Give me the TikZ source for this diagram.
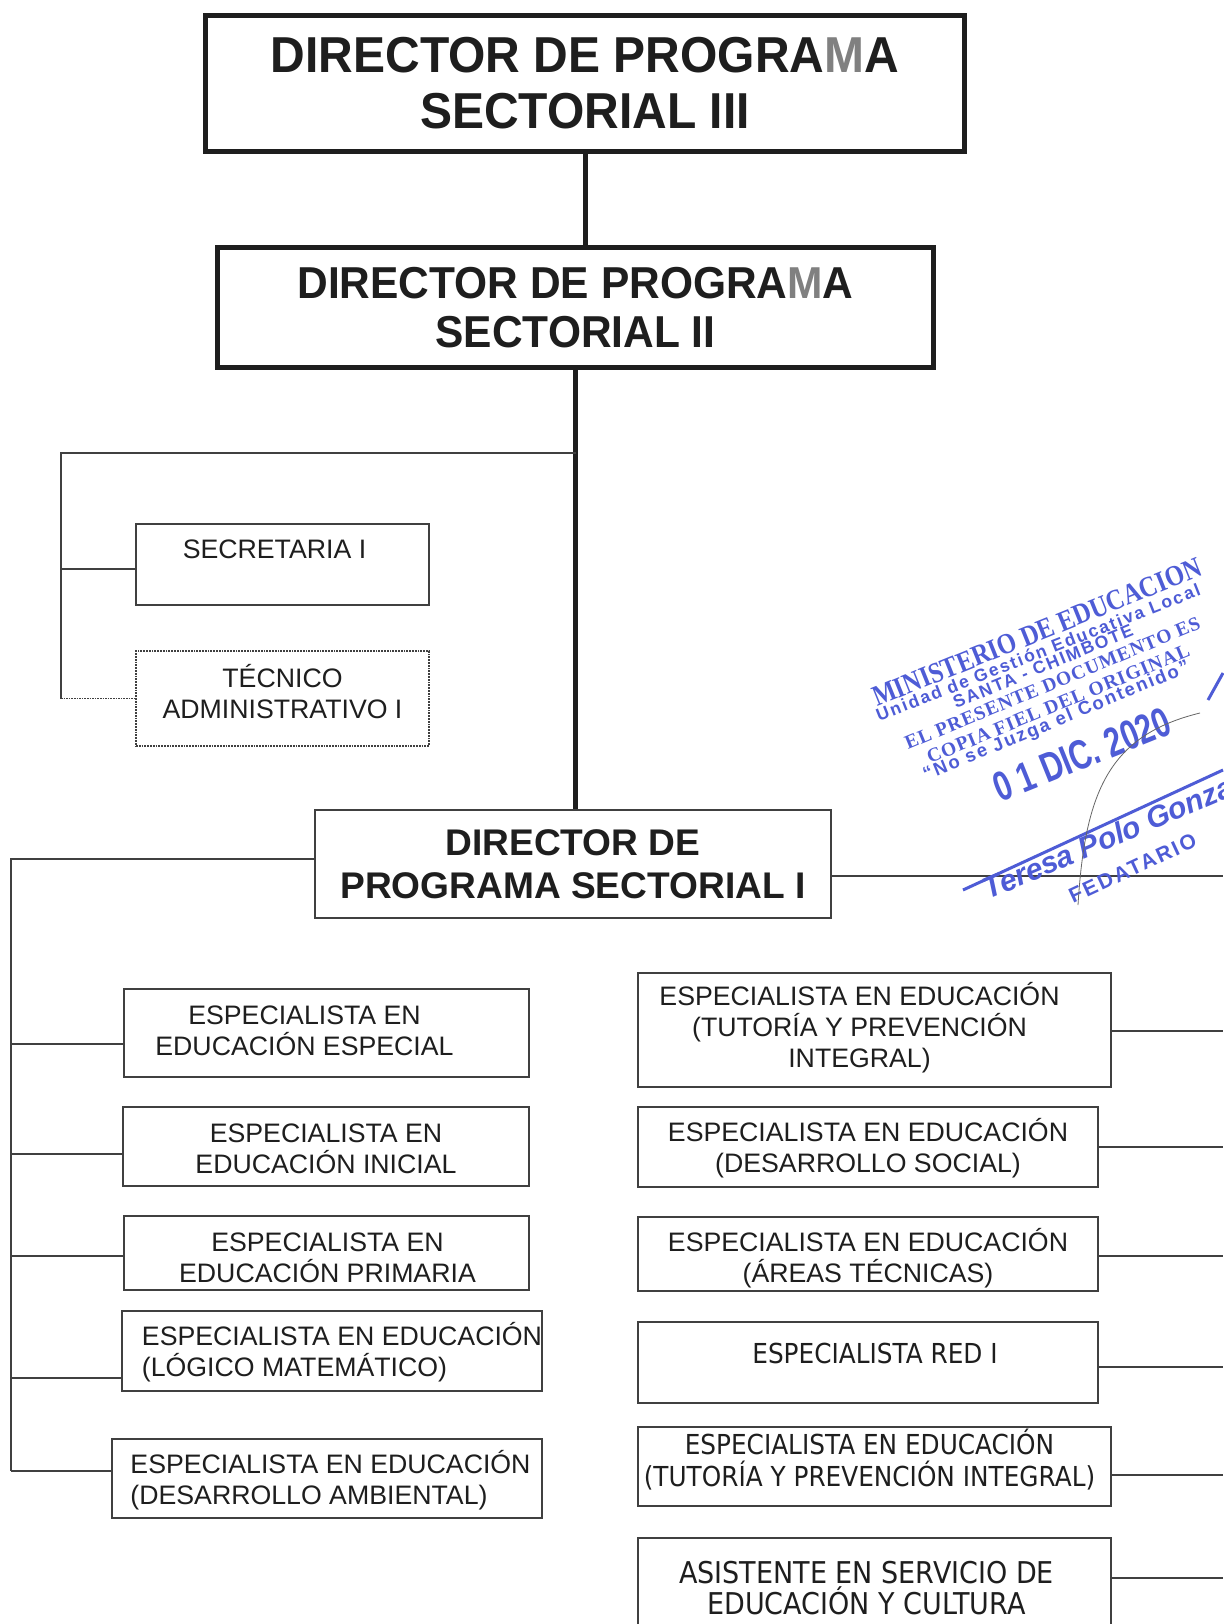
\documentclass[tikz,border=0pt]{standalone}
\usepackage{fontspec}
\setmainfont{Liberation Sans}
\newfontfamily\headfont[FakeStretch=0.95]{Liberation Sans}
\newfontfamily\tahfont[FakeStretch=0.9]{DejaVu Sans}
\newfontfamily\sealserif[FakeStretch=0.85]{Liberation Serif}
\newfontfamily\sealserifsp[LetterSpace=5]{Liberation Serif}
\newfontfamily\sealsans[LetterSpace=11]{Liberation Sans}
\usepackage{xcolor}
\usetikzlibrary{positioning}
\definecolor{sealblue}{RGB}{78,92,214}
\definecolor{ink}{RGB}{30,30,30}

\begin{document}
\begin{tikzpicture}[
      x=1pt, y=-1pt,
      headbox/.style={rectangle, draw=ink, line width=5pt, align=center, text=ink,
                      font=\headfont\bfseries\fontsize{50.5}{56}\selectfont},
      dirbox/.style={rectangle, draw=black!75, line width=2.2pt, align=center, text=ink,
                     font=\bfseries\fontsize{37.1}{42.5}\selectfont},
      box/.style={rectangle, draw=black!75, line width=1.8pt, inner sep=0pt},
      arialtxt/.style={align=center, inner sep=0pt, text=ink, font=\fontsize{26.7}{31}\selectfont},
      tahtxt/.style={align=center, inner sep=0pt, text=ink, font=\tahfont\fontsize{27.5}{32}\selectfont},
      trunk/.style={draw=ink, line width=5pt},
      link/.style={draw=black!75, line width=1.6pt},
      seal/.style={text=sealblue, anchor=base west, inner sep=0pt},
    ]
    \path[fill=white, use as bounding box] (0,0) rectangle (1223,1624);

    % directors
    \node[headbox, minimum width=759, minimum height=136] (dps3) at (585,83.5)
      {DIRECTOR DE PROGRA\textcolor{gray}{M}A\\SECTORIAL III};
    \node[headbox, font=\headfont\bfseries\fontsize{44.7}{49}\selectfont,
          minimum width=716, minimum height=120] (dps2) at (575.5,307.5)
      {DIRECTOR DE PROGRA\textcolor{gray}{M}A\\SECTORIAL II};
    \node[dirbox, minimum width=516, minimum height=108] (dps1) at (573,864)
      {DIRECTOR DE\\PROGRAMA SECTORIAL I};

    % staff of director II
    \node[box, minimum width=293, minimum height=81,
          label={[arialtxt, xshift=-8pt, yshift=15.5pt]center:SECRETARIA I}] (secre) at (282.5,564.5) {};
    \node[box, densely dotted, line width=1.4pt, minimum width=293, minimum height=95,
          label={[arialtxt, yshift=7pt]center:TÉCNICO\\ADMINISTRATIVO I}] (tec) at (282.5,698.5) {};

    % left column
    \node[box, minimum width=405, minimum height=88,
          label={[arialtxt, xshift=-22pt, yshift=2pt]center:ESPECIALISTA EN\\EDUCACIÓN ESPECIAL}] (l1) at (326.5,1033) {};
    \node[box, minimum width=406, minimum height=79,
          label={[arialtxt, yshift=-2pt]center:ESPECIALISTA EN\\EDUCACIÓN INICIAL}] (l2) at (326,1146.5) {};
    \node[box, minimum width=405, minimum height=74,
          label={[arialtxt, xshift=1pt, yshift=-5pt]center:ESPECIALISTA EN\\EDUCACIÓN PRIMARIA}] (l3) at (326.5,1253) {};
    \node[box, minimum width=420, minimum height=80,
          label={[arialtxt, align=left, xshift=10pt, yshift=-1pt]center:ESPECIALISTA EN EDUCACIÓN\\(LÓGICO MATEMÁTICO)}] (l4) at (332,1351) {};
    \node[box, minimum width=430, minimum height=79,
          label={[arialtxt, align=left, xshift=3.5pt, yshift=-2pt]center:ESPECIALISTA EN EDUCACIÓN\\(DESARROLLO AMBIENTAL)}] (l5) at (327,1478.5) {};

    % right column
    \node[box, minimum width=473, minimum height=114,
          label={[arialtxt, xshift=-15pt, yshift=2pt]center:ESPECIALISTA EN EDUCACIÓN\\(TUTORÍA Y PREVENCIÓN\\INTEGRAL)}] (r1) at (874.5,1030) {};
    \node[box, minimum width=460, minimum height=80,
          label={[arialtxt, yshift=-1.5pt]center:ESPECIALISTA EN EDUCACIÓN\\(DESARROLLO SOCIAL)}] (r2) at (868,1147) {};
    \node[box, minimum width=460, minimum height=74,
          label={[arialtxt, yshift=-4pt]center:ESPECIALISTA EN EDUCACIÓN\\(ÁREAS TÉCNICAS)}] (r3) at (868,1254) {};
    \node[box, minimum width=460, minimum height=81,
          label={[tahtxt, xshift=7pt, yshift=9.5pt]center:ESPECIALISTA RED I}] (r4) at (868,1362.5) {};
    \node[box, minimum width=473, minimum height=79,
          label={[tahtxt, xshift=-5pt, yshift=6.5pt]center:ESPECIALISTA EN EDUCACIÓN\\(TUTORÍA Y PREVENCIÓN INTEGRAL)}] (r5) at (874.5,1466.5) {};
    \node[box, minimum width=473, minimum height=104,
          label={[tahtxt, font=\tahfont\fontsize{30}{31}\selectfont, xshift=-8pt, yshift=2pt]center:ASISTENTE EN SERVICIO DE\\EDUCACIÓN Y CULTURA}] (r6) at (874.5,1590) {};

    \coordinate (lbus) at (11,0);
    \coordinate (abus) at (61,453);
    \coordinate (redge) at (1223,0);

    % main line
    \draw[trunk] (dps3.south) -- (dps3.south |- dps2.north);
    \draw[trunk] (dps2.south) -- (dps2.south |- dps1.north);

    % staff links
    \draw[link] (abus -| dps2.south) -- (abus) -- (abus |- tec.west);
    \path ([yshift=-4.5pt]secre.west) coordinate (secp);
    \draw[link] (secp -| abus) -- (secp);
    \draw[link, densely dotted] (abus |- tec.west) -- (tec.west);

    % left branches
    \foreach \n/\dy in {l1/-11, l2/-7.5, l3/-3, l4/-27, l5/7.5} {
      \path ([yshift=\dy pt]\n.west) coordinate (\n p);
      \draw[link] (\n p -| lbus) -- (\n p);
    }
    \path ([yshift=5pt]dps1.west) coordinate (d1w);
    \draw[link] (d1w) -| (lbus |- l5p);

    % right branches, cut by the page edge
    \path ([yshift=-12pt]dps1.east) coordinate (d1e);
    \draw[link] (d1e) -- (d1e -| redge);
    \foreach \n/\dy in {r1/-1, r2/0, r3/-2, r4/-4.5, r5/-8.5, r6/12} {
      \path ([yshift=\dy pt]\n.east) coordinate (\n p);
      \draw[link] (\n p) -- (\n p -| redge);
    }

    % seal
    \node[seal, rotate=22, font=\sealserif\bfseries\fontsize{29}{29}\selectfont] (seal1) at (877,707) {MINISTERIO DE EDUCACION};
    \node[seal, rotate=21.5, font=\sealsans\bfseries\fontsize{17.5}{18}\selectfont] (seal2) at (879,722) {Unidad de Gestión Educativa Local};
    \node[seal, rotate=22.5, font=\sealsans\bfseries\fontsize{17.5}{18}\selectfont] (seal3) at (956,709) {SANTA - CHIMBOTE};
    \node[seal, rotate=22.5, font=\sealserifsp\bfseries\fontsize{19.5}{20}\selectfont] (seal4) at (908,750) {EL PRESENTE DOCUMENTO ES};
    \node[seal, rotate=22.5, font=\sealserifsp\bfseries\fontsize{19.5}{20}\selectfont] (seal5) at (930,764) {COPIA FIEL DEL ORIGINAL};
    \node[seal, rotate=22.5, font=\sealsans\bfseries\fontsize{18.5}{19}\selectfont] (seal6) at (926,781) {“No se Juzga el Contenido”};
    \node[seal, rotate=22, yscale=1.3, font=\headfont\bfseries\fontsize{32}{32}\selectfont] (seal7) at (1000,803) {0 1 DIC. 2020};
    \node[seal, rotate=23, font=\bfseries\itshape\fontsize{30}{31}\selectfont] (seal8) at (988,900) {Teresa Polo Gonzales};
    \node[seal, rotate=25, font=\sealsans\bfseries\fontsize{21}{22}\selectfont] (seal9) at (1073,904) {FEDATARIO};
    \draw[sealblue, line width=3pt] (963,890) -- (1223,770);
    \draw[sealblue, line width=3pt] (1208,700) -- (1223,673);
    \draw[black!60, line width=0.8pt] (1200,713) .. controls (1110,735) and (1085,790) .. (1078,905);
  \end{tikzpicture}
\end{document}
